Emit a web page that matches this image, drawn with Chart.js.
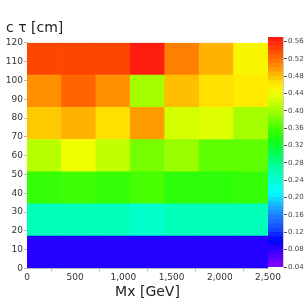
<!DOCTYPE html>
<html>
<head>
<meta charset="utf-8">
<script src="https://cdn.jsdelivr.net/npm/chart.js"></script>
<style>
  body { margin: 0; background: #fff; }
  .wrap { position: relative; width: 308px; height: 308px; }
  #heatmap { position: absolute; left: 0; top: 0; }
  #colorbar { position: absolute; left: 266px; top: 0; }
</style>
</head>
<body>
<div class="wrap">
  <canvas id="heatmap" width="308" height="308"></canvas>
  <canvas id="colorbar" width="42" height="308"></canvas>
</div>

<script>
// bin edges
const mxEdges = [0, 357.1, 714.3, 1071.4, 1428.6, 1785.7, 2142.9, 2500];
const ctauEdges = [0, 17.14, 34.29, 51.43, 68.57, 85.71, 102.86, 120];

// efficiency per cell, one row per c tau bin (bottom to top)
const row0 = [0.085, 0.085, 0.085, 0.085, 0.085, 0.085, 0.085];
const row1 = [0.255, 0.255, 0.255, 0.245, 0.255, 0.255, 0.255];
const row2 = [0.350, 0.355, 0.350, 0.360, 0.345, 0.345, 0.350];
const row3 = [0.410, 0.440, 0.415, 0.380, 0.395, 0.370, 0.370];
const row4 = [0.475, 0.485, 0.465, 0.495, 0.425, 0.430, 0.400];
const row5 = [0.500, 0.525, 0.500, 0.400, 0.480, 0.465, 0.460];
const row6 = [0.540, 0.540, 0.540, 0.565, 0.510, 0.485, 0.450];
const rows = [row0, row1, row2, row3, row4, row5, row6];

// colour scale
const zMin = 0.04;
const zMax = 0.57;
const zStep = 0.01;
const zTicks = [0.04, 0.06, 0.08, 0.10, 0.12, 0.14, 0.16, 0.18, 0.20, 0.22, 0.24, 0.26,
                0.28, 0.30, 0.32, 0.34, 0.36, 0.38, 0.40, 0.42, 0.44, 0.46, 0.48, 0.50,
                0.52, 0.54, 0.56];

const palette = [
  [0.04, [136, 0, 255]],
  [0.07, [70, 0, 255]],
  [0.10, [0, 0, 255]],
  [0.13, [25, 80, 255]],
  [0.16, [30, 130, 255]],
  [0.19, [20, 200, 255]],
  [0.21, [0, 255, 255]],
  [0.24, [0, 255, 210]],
  [0.27, [0, 255, 160]],
  [0.30, [0, 255, 90]],
  [0.33, [20, 255, 20]],
  [0.36, [70, 255, 0]],
  [0.40, [165, 255, 0]],
  [0.44, [240, 255, 0]],
  [0.46, [255, 235, 0]],
  [0.48, [255, 190, 0]],
  [0.50, [255, 145, 0]],
  [0.52, [255, 110, 0]],
  [0.54, [255, 70, 0]],
  [0.57, [255, 20, 20]]
];

function colourFor(v) {
  if (v <= palette[0][0]) return 'rgb(' + palette[0][1].join(',') + ')';
  for (let i = 1; i < palette.length; i++) {
    if (v <= palette[i][0]) {
      const a = palette[i - 1], b = palette[i];
      const t = (v - a[0]) / (b[0] - a[0]);
      const c = a[1].map((ch, k) => Math.round(ch + (b[1][k] - ch) * t));
      return 'rgb(' + c.join(',') + ')';
    }
  }
  return 'rgb(' + palette[palette.length - 1][1].join(',') + ')';
}

const font = 'DejaVu Sans';
const mxCentres = mxEdges.slice(0, -1).map((e, i) => (e + mxEdges[i + 1]) / 2);

const heatSets = rows.map(function(row, r) {
  return {
    data: mxCentres.map((c, i) => ({ x: c, y: [ctauEdges[r], ctauEdges[r + 1]] })),
    backgroundColor: row.map(colourFor),
    borderWidth: 0,
    grouped: false,
    barPercentage: 1,
    categoryPercentage: 1
  };
});

new Chart(document.getElementById('heatmap'), {
  type: 'bar',
  data: { datasets: heatSets },
  options: {
    responsive: false,
    animation: false,
    layout: { padding: { left: 6, right: 40, top: 0, bottom: 7 } },
    plugins: {
      legend: { display: false },
      tooltip: { enabled: false },
      title: {
        display: true,
        text: 'c τ [cm]',
        align: 'start',
        color: '#222',
        font: { family: font, size: 14, weight: 'normal' },
        padding: { top: 20, bottom: 6 }
      }
    },
    scales: {
      x: {
        type: 'linear',
        min: 0,
        max: 2500,
        offset: false,
        ticks: { stepSize: 500, color: '#333', font: { family: font, size: 9 }, padding: 1, maxRotation: 0 },
        grid: { drawOnChartArea: false, tickLength: 3, color: '#bbb' },
        border: { color: '#ccc' },
        title: {
          display: true,
          text: 'Mx [GeV]',
          color: '#222',
          font: { family: font, size: 14 },
          padding: { top: 0, bottom: 0 }
        }
      },
      y: {
        min: 0,
        max: 120,
        afterFit: function(axis) { axis.width = 21; },
        ticks: { stepSize: 10, color: '#333', font: { family: font, size: 9 }, padding: 1 },
        grid: { drawOnChartArea: false, tickLength: 3, color: '#bbb' },
        border: { color: '#ccc' }
      }
    }
  }
});

// colour bar
const bandSets = [];
for (let z = zMin; z < zMax - 1e-9; z += zStep) {
  bandSets.push({
    data: [[z, z + zStep]],
    backgroundColor: colourFor(z + zStep / 2),
    borderWidth: 0,
    grouped: false,
    barPercentage: 1,
    categoryPercentage: 1
  });
}

new Chart(document.getElementById('colorbar'), {
  type: 'bar',
  data: { labels: [''], datasets: bandSets },
  options: {
    responsive: false,
    animation: false,
    layout: { padding: { left: 2, right: 0, top: 37, bottom: 41 } },
    plugins: { legend: { display: false }, tooltip: { enabled: false } },
    scales: {
      x: { display: false },
      y: {
        position: 'right',
        min: zMin,
        max: zMax,
        afterBuildTicks: function(axis) { axis.ticks = zTicks.map(v => ({ value: v })); },
        afterFit: function(axis) { axis.width = 25; },
        ticks: {
          color: '#444',
          font: { family: font, size: 7 },
          padding: 1,
          callback: v => v.toFixed(2)
        },
        grid: { drawOnChartArea: false, tickLength: 4, color: '#555' },
        border: { color: '#ccc' }
      }
    }
  }
});
</script>
</body>
</html>
